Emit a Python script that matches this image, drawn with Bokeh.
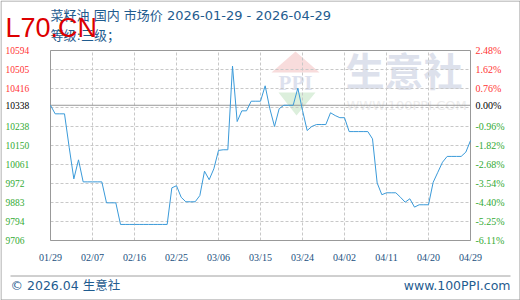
import numpy as np
import pandas as pd
from bokeh.plotting import figure
from bokeh.models import (Range1d, LabelSet, Label, ColumnDataSource, PolyAnnotation, LinearScale)
from bokeh.embed import file_html
from bokeh.resources import INLINE

# ---------------- data ----------------
title_text = "菜籽油 国内 市场价 2026-01-29 - 2026-04-29"
grade_text = "等级:三级；"
start_date = "2026-01-29"
end_date = "2026-04-29"
dates = pd.date_range(start_date, end_date, freq="D")
prices = [
    10338, 10298, 10298, 10298, 10142, 9994, 10083, 9980, 9980, 9980,
    9980, 9980, 9882, 9882, 9882, 9781, 9781, 9781, 9781, 9781,
    9781, 9781, 9781, 9781, 9781, 9781, 9952, 9962, 9908, 9887,
    9887, 9887, 9916, 10030, 9990, 10041, 10127, 10130, 10130, 10521,
    10262, 10312, 10312, 10357, 10357, 10357, 10429, 10322, 10239, 10322,
    10338, 10338, 10338, 10418, 10314, 10220, 10239, 10248, 10248, 10248,
    10303, 10290, 10280, 10280, 10215, 10215, 10215, 10215, 10215, 10181,
    9975, 9920, 9929, 9929, 9929, 9908, 9885, 9901, 9862, 9873,
    9873, 9873, 9978, 10025, 10072, 10099, 10099, 10099, 10099, 10119,
    10173,
]
base_price = 10338
y_min = 9706
y_max = 10594
x_tick_dates = ["2026-01-29", "2026-02-07", "2026-02-16", "2026-02-25", "2026-03-06",
                "2026-03-15", "2026-03-24", "2026-04-02", "2026-04-11", "2026-04-20",
                "2026-04-29"]
footer_left = "© 2026.04 生意社"
footer_right = "www.100PPI.com"
brand = "L70.CN"
wm_big = "生意社"
wm_small = "WWW.100PPI.COM"
wm_logo = "PPI"

# ---------------- layout geometry (canvas px) ----------------
W, H = 520, 300
PL, PR, PT, PB = 50, 470, 50, 240   # plot area edges, top-down canvas coordinates
BLUE = "#1f5c8f"
MIXED_FONT = "DejaVu Sans, Noto Sans CJK SC"

t0 = pd.Timestamp(start_date)
t1 = pd.Timestamp(end_date)
ms_per_px = (t1 - t0).total_seconds() * 1000 / (PR - PL)
v_per_px = (y_max - y_min) / (PB - PT)

p = figure(width=W, height=H, output_backend="svg", toolbar_location=None,
           x_axis_location=None, y_axis_location=None,
           x_range=Range1d(0, W), y_range=Range1d(0, H),
           min_border=0, min_border_left=0, min_border_right=0,
           min_border_top=0, min_border_bottom=0)
p.outline_line_color = None
p.grid.visible = False
p.background_fill_color = "white"
p.border_fill_color = "white"
p.extra_x_ranges = {"d": Range1d(t0 - pd.Timedelta(milliseconds=PL * ms_per_px),
                                 t1 + pd.Timedelta(milliseconds=(W - PR) * ms_per_px))}
p.extra_y_ranges = {"v": Range1d(y_min - (H - PB) * v_per_px, y_max + PT * v_per_px)}
p.extra_x_scales = {"d": LinearScale()}
p.extra_y_scales = {"v": LinearScale()}

def ty(y):  # top-down canvas px -> bottom-up screen px
    return H - y

# ---------------- watermark ----------------
p.add_layout(PolyAnnotation(xs=[271, 295, 319], ys=[ty(72), ty(51), ty(72)], xs_units="screen",
                            ys_units="screen", fill_color="#f8dcdc", line_color=None,
                            fill_alpha=1, level="underlay"))
p.add_layout(PolyAnnotation(xs=[278, 296, 315], ys=[ty(92), ty(115), ty(92)], xs_units="screen",
                            ys_units="screen", fill_color="#dcefdc", line_color=None,
                            fill_alpha=1, level="underlay"))
p.add_layout(Label(x=295, y=ty(82), x_units="screen", y_units="screen", text=wm_logo,
                   text_font="Liberation Serif", text_font_size="21px", text_font_style="bold",
                   text_color="#dde1ee", text_align="center", text_baseline="middle",
                   level="underlay"))
p.add_layout(Label(x=345, y=ty(68), x_units="screen", y_units="screen", text=wm_big,
                   text_font="Noto Sans CJK SC", text_font_size="39px", text_font_style="bold",
                   text_color="#dde1ec", text_baseline="middle", level="underlay"))
p.add_layout(Label(x=346, y=ty(105), x_units="screen", y_units="screen", text=wm_small,
                   text_font="DejaVu Sans", text_font_size="13px",
                   text_color="#ececec", text_baseline="middle", level="underlay"))

# ---------------- grid ----------------
xt = [pd.Timestamp(d) for d in x_tick_dates]
yticks = list(np.linspace(y_min, y_max, 11))
p.segment(x0=xt, x1=xt, y0=[y_min] * len(xt), y1=[y_max] * len(xt),
          x_range_name="d", y_range_name="v", line_color="#c8c8c8", line_dash="3 2", line_width=1)
p.segment(x0=[t0] * len(yticks), x1=[t1] * len(yticks), y0=yticks, y1=yticks,
          x_range_name="d", y_range_name="v", line_color="#c8c8c8", line_dash="3 2", line_width=1)
p.segment(x0=[t0], x1=[t1], y0=[base_price], y1=[base_price],
          x_range_name="d", y_range_name="v", line_color="#999999", line_width=1)
p.quad(left=[t0], right=[t1], bottom=[y_min], top=[y_max], x_range_name="d", y_range_name="v",
       fill_color=None, line_color="#999999", line_width=1)

# ---------------- series ----------------
p.line(dates, prices, x_range_name="d", y_range_name="v", line_color="#3a9ad9", line_width=1)

# ---------------- tick labels ----------------
left_labels, right_labels, colors, ypos = [], [], [], []
for t in yticks:
    if abs(t - base_price) < 20:
        t = base_price
    ypos.append(t)
    left_labels.append(str(int(np.floor(t + 1e-6))))
    right_labels.append("%.2f%%" % ((t - base_price) / base_price * 100))
    colors.append("#ff3333" if t > base_price else ("#000000" if t == base_price else "#33aa33"))
src = ColumnDataSource(dict(y=ypos, l=left_labels, r=right_labels, c=colors))
p.add_layout(LabelSet(x=5, y="y", x_units="screen", y_range_name="v", text="l", source=src,
                      text_color="c", text_font="DejaVu Sans", text_font_size="9.5px",
                      text_baseline="middle", text_align="left"))
p.add_layout(LabelSet(x=PR + 5, y="y", x_units="screen", y_range_name="v", text="r", source=src,
                      text_color="c", text_font="DejaVu Sans Mono", text_font_size="10px",
                      text_baseline="middle", text_align="left"))

xsrc = ColumnDataSource(dict(x=xt, t=[d.strftime("%m/%d") for d in xt]))
p.add_layout(LabelSet(x="x", y=ty(257), y_units="screen", x_range_name="d", text="t", source=xsrc,
                      text_color="#1b4f7e", text_font="DejaVu Sans", text_font_size="10px",
                      text_baseline="middle", text_align="center"))

# ---------------- titles ----------------
p.add_layout(Label(x=PL, y=ty(15), x_units="screen", y_units="screen", text=title_text,
                   text_font=MIXED_FONT, text_font_size="13px", text_color=BLUE,
                   text_baseline="middle"))
p.add_layout(Label(x=PL, y=ty(35), x_units="screen", y_units="screen", text=grade_text,
                   text_font=MIXED_FONT, text_font_size="13px", text_color=BLUE,
                   text_baseline="middle"))
p.add_layout(Label(x=5, y=ty(27), x_units="screen", y_units="screen", text=brand,
                   text_font="Liberation Sans", text_font_size="27px", text_color="#dd0000",
                   text_baseline="alphabetic"))

# ---------------- footer & border ----------------
p.segment(x0=[10], x1=[510], y0=[ty(275.5)], y1=[ty(275.5)], line_color="#a0a0a0", line_width=1)
p.add_layout(Label(x=10, y=ty(285), x_units="screen", y_units="screen", text=footer_left,
                   text_font=MIXED_FONT, text_font_size="12.5px", text_color=BLUE,
                   text_baseline="middle"))
p.add_layout(Label(x=510, y=ty(285), x_units="screen", y_units="screen", text=footer_right,
                   text_font=MIXED_FONT, text_font_size="12.5px", text_color=BLUE,
                   text_baseline="middle", text_align="right"))
p.quad(left=[0.5], right=[W - 0.5], bottom=[0.5], top=[H - 0.5], fill_color=None,
       line_color="#999999", line_width=1)

open("out.html", "w").write(file_html(p, INLINE))
